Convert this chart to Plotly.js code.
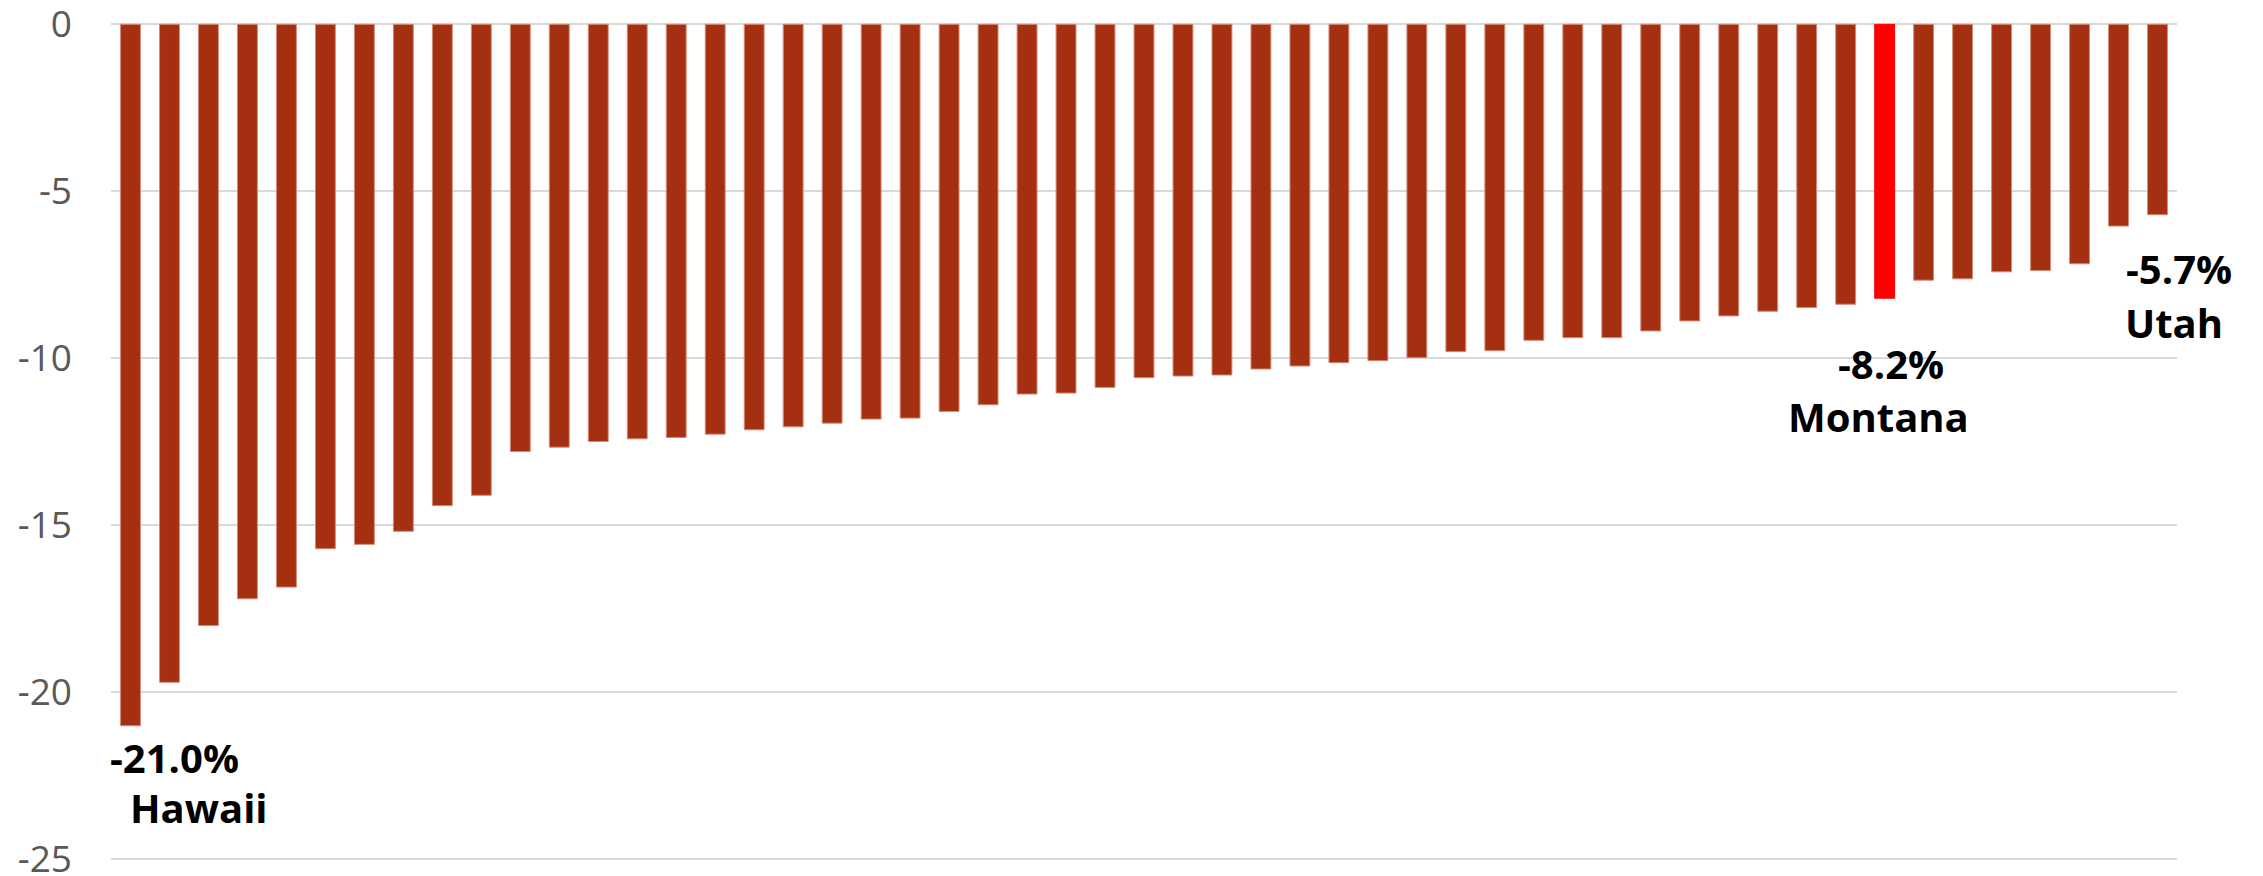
<!DOCTYPE html>
<html>
<head>
<meta charset="utf-8">
<script src="https://cdn.plot.ly/plotly-3.0.1.min.js"></script>
<style>
  html, body { margin: 0; padding: 0; background: #ffffff; }
  #chart { width: 2263px; height: 876px; }
</style>
</head>
<body>
<div id="chart"></div>
<script>
// Rank of each state/territory, from largest decline to smallest
const ranks = ["1","2","3","4","5","6","7","8","9","10","11","12","13","14","15","16","17","18",
  "19","20","21","22","23","24","25","26","27","28","29","30","31","32","33","34","35","36",
  "37","38","39","40","41","42","43","44","45","46","47","48","49","50","51","52","53"];

// Percent change
const changes = [-21.0, -19.7, -18.0, -17.2, -16.85, -15.7, -15.57, -15.18, -14.41, -14.1,
  -12.79, -12.66, -12.49, -12.41, -12.37, -12.27, -12.14, -12.05, -11.94, -11.82,
  -11.79, -11.59, -11.39, -11.07, -11.04, -10.87, -10.58, -10.53, -10.5, -10.32,
  -10.23, -10.13, -10.07, -9.98, -9.8, -9.77, -9.46, -9.38, -9.38, -9.18,
  -8.88, -8.73, -8.59, -8.48, -8.38, -8.2, -7.66, -7.62, -7.41, -7.37,
  -7.17, -6.04, -5.7];

// Labelled bars: rank, name
const labelled = [
  { rank: "1",  name: "Hawaii" },
  { rank: "46", name: "Montana" },
  { rank: "53", name: "Utah" }
];
const highlightRank = "46";

const yTicks = [0, -5, -10, -15, -20, -25];

const baseColor = "#A52F11";
const highlightColor = "#FF0000";

const colors = ranks.map(r => r === highlightRank ? highlightColor : baseColor);
const lineColors = ranks.map(r => r === highlightRank ? highlightColor : "#D58A76");

function pct(v) { return v.toFixed(1) + "%"; }

// Offsets of the two label lines relative to the bar end, in pixels
const labelOffsets = {
  "Hawaii":  { value: [44, -32],  name: [69, -82] },
  "Montana": { value: [6, -65],   name: [-6, -118] },
  "Utah":    { value: [21, -54],  name: [16, -108] }
};

const labelFont = { family: "Open Sans, sans-serif", size: 40, color: "#000000", weight: 700 };

const annotations = [];
labelled.forEach(l => {
  // category axes take the bar's index as a position
  const idx = ranks.indexOf(l.rank);
  const v = changes[idx];
  const off = labelOffsets[l.name];
  annotations.push({
    x: idx, y: v, xref: "x", yref: "y",
    text: "<b>" + pct(v) + "</b>", showarrow: false,
    xanchor: "center", yanchor: "middle",
    xshift: off.value[0], yshift: off.value[1], font: labelFont
  });
  annotations.push({
    x: idx, y: v, xref: "x", yref: "y",
    text: "<b>" + l.name + "</b>", showarrow: false,
    xanchor: "center", yanchor: "middle",
    xshift: off.name[0], yshift: off.name[1], font: labelFont
  });
});

const trace = {
  type: "bar",
  x: ranks,
  y: changes,
  marker: { color: colors, line: { color: lineColors, width: 1 } },
  hoverinfo: "x+y"
};

const layout = {
  width: 2263,
  height: 876,
  margin: { l: 111, r: 86, t: 23, b: 14, pad: 0 },
  paper_bgcolor: "#ffffff",
  plot_bgcolor: "#ffffff",
  bargap: 0.49,
  showlegend: false,
  xaxis: {
    type: "category",
    range: [-0.5, ranks.length - 0.5],
    autorange: false,
    showticklabels: false,
    showgrid: false,
    zeroline: false,
    showline: false,
    ticks: ""
  },
  yaxis: {
    range: [-25.08, 0.04],
    autorange: false,
    tickvals: yTicks,
    ticktext: yTicks.map(String),
    showgrid: true,
    gridcolor: "#D9D9D9",
    gridwidth: 2,
    zeroline: true,
    zerolinecolor: "#D9D9D9",
    zerolinewidth: 2,
    showline: false,
    ticks: "",
    ticklabelstandoff: 38,
    ticklabeloverflow: "allow",
    tickfont: { family: "Open Sans, sans-serif", size: 37, color: "#595959" }
  },
  annotations: annotations
};

Plotly.newPlot("chart", [trace], layout, { displayModeBar: false, staticPlot: true });
</script>
</body>
</html>
